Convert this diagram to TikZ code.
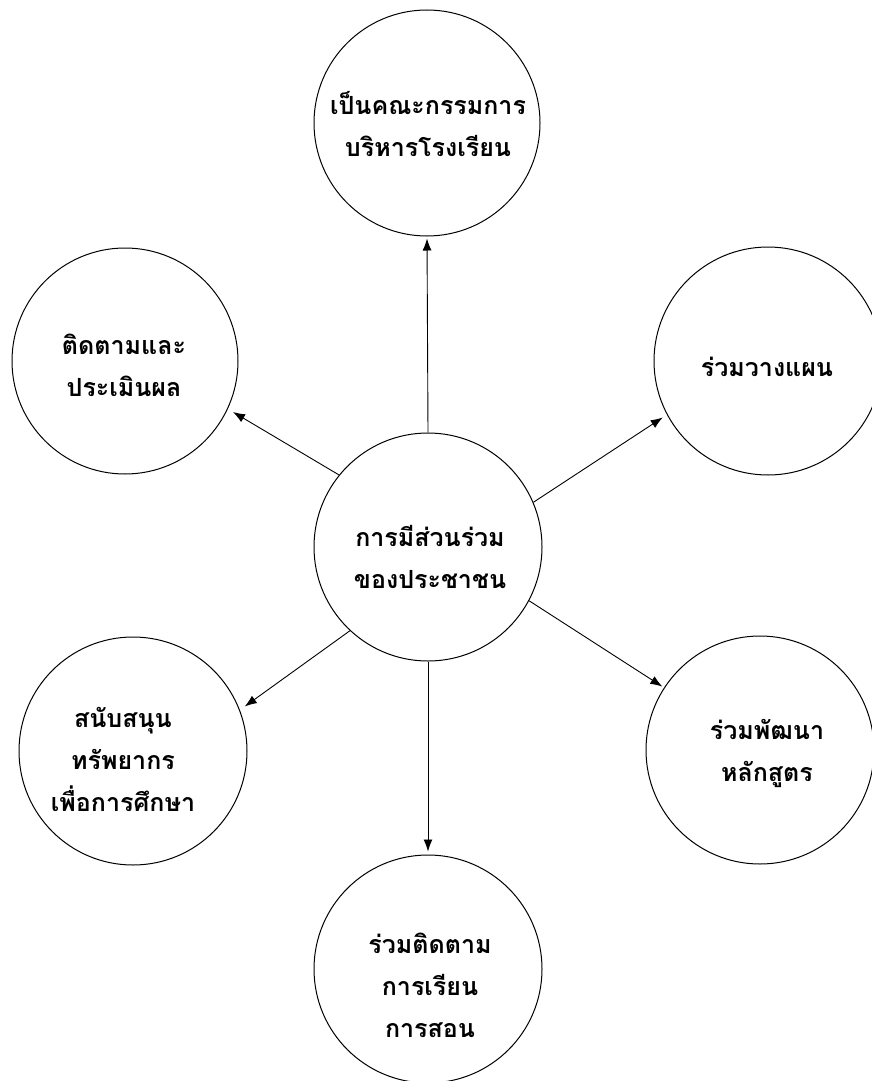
\documentclass[tikz,border=0pt]{standalone}
\usepackage{fontspec}
\newfontfamily\thaifont[Script=Thai]{Loma}
\usetikzlibrary{arrows.meta}
\tikzset{
  bubble/.style={circle,draw=black,line width=1pt,inner sep=0pt,minimum size=#1},
  bubble/.default=228pt,
  lbl/.style={align=center,font=\thaifont\bfseries\fontsize{25}{42}\selectfont,inner sep=0pt},
  conn/.style={line width=0.9pt,-{Latex[length=12pt,width=9pt]}}
}
\begin{document}
\begin{tikzpicture}[x=1pt,y=-1pt]
\useasboundingbox (0,0) rectangle (872,1081);
% circles
\node[bubble=226pt] (top) at (427,123) {};
\node[bubble=226pt] (ul) at (125,361) {};
\node[bubble] (ur) at (768,361) {};
\node[bubble] (c) at (428,547) {};
\node[bubble] (ll) at (133,751) {};
\node[bubble] (lr) at (760,750) {};
\node[bubble] (b) at (428,969) {};
% texts
\node[lbl] (topt) at (428,124) {เป็นคณะกรรมการ\\บริหารโรงเรียน};
\node[lbl] (ult) at (124,365) {ติดตามและ\\ประเมินผล};
\node[lbl] (urt) at (767,367) {ร่วมวางแผน};
\node[lbl] (ct) at (430,557) {การมีส่วนร่วม\\ของประชาชน};
\node[lbl] (llt) at (123,759) {สนับสนุน\\ทรัพยากร\\เพื่อการศึกษา};
\node[lbl] (lrt) at (767,753) {ร่วมพัฒนา\\หลักสูตร};
\node[lbl] (bt) at (430,985) {ร่วมติดตาม\\การเรียน\\การสอน};
% connectors
\draw[conn,shorten >=2pt] (c.90) -- (top.270);
\draw[conn,shorten >=3pt] (c.270) -- (b.90);
\draw[conn,shorten >=6pt] (c.141.8) -- (ul.335.4);
\draw[conn,shorten >=5pt] (c.23.2) -- (ur.208.1);
\draw[conn,shorten >=6pt] (c.227.5) -- (ll.21.4);
\draw[conn,shorten >=2pt] (c.-28.3) -- (lr.147.7);
\end{tikzpicture}
\end{document}
